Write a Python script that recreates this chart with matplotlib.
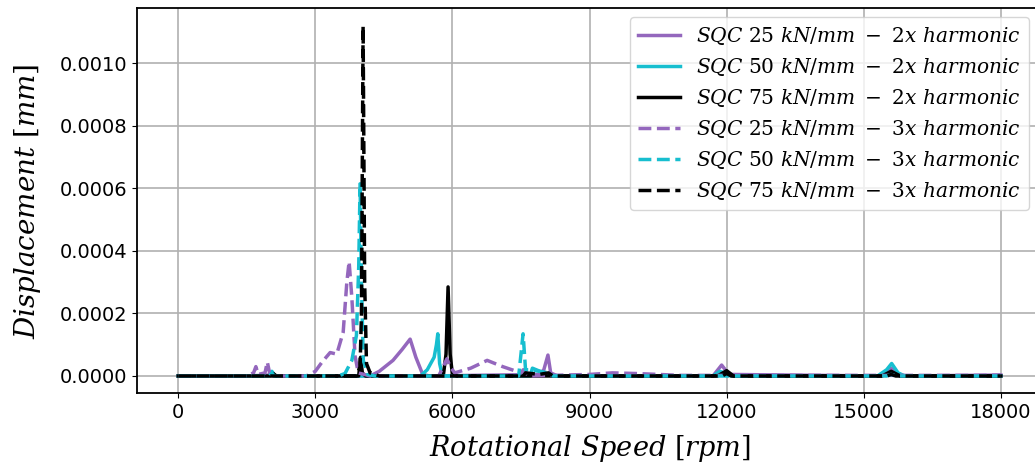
import matplotlib.pyplot as plt

plt.rcParams['mathtext.fontset'] = 'dejavuserif'

# Data ===========================================
# 2x harmonic (solid)
rpm_2x_25 = [0, 1500, 2000, 2100, 4200, 4400, 4700, 4900, 5075, 5200, 5350, 5500,
             7900, 8000, 8090, 8150, 8300, 11700, 11890, 12050, 15400, 15600, 15800, 18000]
disp_2x_25 = [0, 0, 3e-6, 0, 0, 1.5e-5, 5e-5, 8.5e-5, 1.18e-4, 6e-5, 5e-6, 0,
              5e-6, 2e-5, 6.7e-5, 1e-5, 0, 0, 3.5e-5, 5e-6, 0, 2.5e-5, 0, 3e-6]

rpm_2x_50 = [0, 2000, 2050, 2120, 5300, 5450, 5600, 5650, 5680, 5720, 5780,
             7700, 7750, 8000, 8200, 11700, 11850, 11950, 12100, 15300, 15500, 15610, 15750, 15900, 18000]
disp_2x_50 = [0, 0, 1.5e-5, 0, 0, 2e-5, 6e-5, 1e-4, 1.35e-4, 4e-5, 0,
              0, 2.5e-5, 1e-5, 0, 0, 1.5e-5, 1e-5, 0, 0, 2e-5, 4e-5, 1e-5, 0, 0]

rpm_2x_75 = [0, 2000, 2080, 2150, 3950, 3990, 4030, 4100, 5800, 5860, 5905, 5950, 6000, 6100,
             11800, 12000, 12150, 15400, 15600, 15800, 18000]
disp_2x_75 = [0, 0, 8e-6, 0, 0, 6e-5, 1e-5, 0, 0, 7e-5, 2.85e-4, 7e-5, 5e-6, 0,
              0, 1.7e-5, 0, 0, 1.5e-5, 0, 0]

# 3x harmonic (dashed)
rpm_3x_25 = [0, 1500, 1650, 1700, 1750, 1900, 1950, 2000, 2100, 2800, 3000, 3150, 3325, 3470, 3610,
             3690, 3740, 3800, 3870, 3940, 4200, 5700, 5880, 5950, 6050, 6400, 6760, 7100, 7500,
             7550, 7650, 9000, 9500, 10000, 11000, 17500, 18000]
disp_3x_25 = [0, 0, 1e-5, 3e-5, 5e-6, 1e-5, 4.5e-5, 1e-5, 0, 0, 1.5e-5, 4.5e-5, 7.5e-5, 7e-5, 1.4e-4,
              3e-4, 3.66e-4, 2.5e-4, 6.4e-5, 1e-5, 0, 0, 5.5e-5, 3e-5, 1e-5, 2.5e-5, 5e-5, 3e-5, 1e-5,
              2e-5, 0, 5e-6, 1e-5, 8e-6, 2e-6, 2e-6, 3e-6]

rpm_3x_50 = [0, 2000, 2050, 2100, 3500, 3650, 3800, 3900, 3950, 3980, 4010, 4050, 4150, 4300,
             7450, 7546, 7600, 7700, 8100, 8200, 15500, 15600, 15700, 18000]
disp_3x_50 = [0, 0, 1e-5, 0, 0, 8e-6, 5e-5, 1.3e-4, 3.5e-4, 6.15e-4, 3e-4, 5e-5, 5e-6, 0,
              0, 1.35e-4, 2e-5, 2e-5, 1e-5, 0, 0, 5e-6, 0, 0]

rpm_3x_75 = [0, 3900, 3980, 4010, 4046, 4080, 4120, 4200, 4400, 7550, 7600, 7900, 8100, 8200,
             11900, 12000, 12100, 15500, 15600, 15700, 18000]
disp_3x_75 = [0, 0, 3e-5, 2e-4, 1.12e-3, 3e-4, 4e-5, 1e-5, 0, 0, 1e-5, 5e-6, 1e-5, 0,
              0, 8e-6, 0, 0, 5e-6, 0, 0]

labels = [r'$SQC\ 25\ kN/mm\ -\ 2x\ harmonic$',
          r'$SQC\ 50\ kN/mm\ -\ 2x\ harmonic$',
          r'$SQC\ 75\ kN/mm\ -\ 2x\ harmonic$',
          r'$SQC\ 25\ kN/mm\ -\ 3x\ harmonic$',
          r'$SQC\ 50\ kN/mm\ -\ 3x\ harmonic$',
          r'$SQC\ 75\ kN/mm\ -\ 3x\ harmonic$']

# Figure =========================================
fig = plt.figure(figsize=(10.35, 4.67), dpi=100)
ax = fig.add_axes([0.1324, 0.1574, 0.8744, 0.8244])

ax.plot(rpm_2x_25, disp_2x_25, color='#9467bd', lw=2.5, label=labels[0])
ax.plot(rpm_2x_50, disp_2x_50, color='#17becf', lw=2.5, label=labels[1])
ax.plot(rpm_2x_75, disp_2x_75, color='black', lw=2.5, label=labels[2])
ax.plot(rpm_3x_25, disp_3x_25, color='#9467bd', lw=2.5, ls='--', label=labels[3])
ax.plot(rpm_3x_50, disp_3x_50, color='#17becf', lw=2.5, ls='--', label=labels[4])
ax.plot(rpm_3x_75, disp_3x_75, color='black', lw=2.5, ls='--', label=labels[5])

ax.set_xticks([0, 3000, 6000, 9000, 12000, 15000, 18000])
ax.set_yticks([0, 0.0002, 0.0004, 0.0006, 0.0008, 0.0010])
ax.set_yticklabels(['0.0000', '0.0002', '0.0004', '0.0006', '0.0008', '0.0010'])
ax.tick_params(labelsize=14)
ax.grid(True, color='#b0b0b0', lw=1.2)
for s in ax.spines.values():
    s.set_linewidth(1.3)

ax.set_xlabel(r'$Rotational\ Speed\ [rpm]$', fontsize=19.5, labelpad=8)
ax.set_ylabel(r'$Displacement\ [mm]$', fontsize=20, labelpad=12)

ax.legend(fontsize=14.5, loc='upper right', bbox_to_anchor=(1029 / 1035, 1 - 17 / 467),
          bbox_transform=fig.transFigure, borderaxespad=0, labelspacing=0.45,
          handlelength=2.1)

fig.savefig('out.png', dpi=100)
